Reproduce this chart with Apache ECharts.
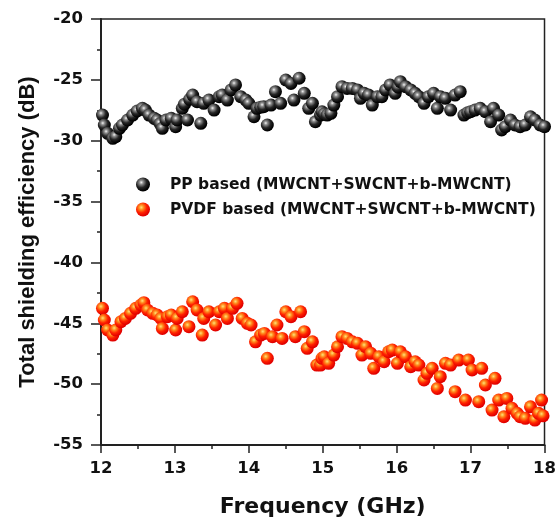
<!DOCTYPE html>
<html>
<head>
<meta charset="utf-8">
<script src="https://cdn.jsdelivr.net/npm/echarts@6/dist/echarts.min.js"></script>
<style>
html,body{margin:0;padding:0;background:#fff;}
#chart{width:559px;height:523px;}
</style>
</head>
<body>
<div id="chart"></div>
<script>
var seriesNames = ['PP based (MWCNT+SWCNT+b-MWCNT)', 'PVDF based (MWCNT+SWCNT+b-MWCNT)'];
var xTicks = [12, 13, 14, 15, 16, 17, 18];
var yTicks = [-55, -50, -45, -40, -35, -30, -25, -20];

var ppFreq = [12.02,12.045,12.09,12.16,12.2,12.25,12.29,12.36,12.43,12.49,12.56,12.6,12.65,12.72,12.76,12.8,12.83,12.88,12.95,13.01,13.03,13.1,13.13,13.17,13.2,13.24,13.3,13.35,13.39,13.46,13.53,13.6,13.64,13.71,13.76,13.82,13.89,13.96,14.0,14.07,14.11,14.16,14.2,14.25,14.3,14.36,14.43,14.5,14.57,14.61,14.68,14.75,14.81,14.86,14.9,14.97,14.99,15.02,15.06,15.11,15.15,15.2,15.26,15.33,15.4,15.47,15.51,15.56,15.62,15.67,15.74,15.8,15.85,15.91,15.98,16.02,16.05,16.12,16.19,16.25,16.3,16.37,16.43,16.5,16.55,16.59,16.66,16.73,16.79,16.86,16.91,16.96,17.0,17.06,17.13,17.2,17.27,17.31,17.38,17.42,17.47,17.54,17.6,17.67,17.74,17.81,17.87,17.94,18.0];
var ppSE = [-27.89,-28.71,-29.39,-29.8,-29.67,-28.98,-28.71,-28.3,-27.89,-27.56,-27.34,-27.48,-27.89,-28.16,-28.3,-28.6,-28.98,-28.3,-28.16,-28.85,-28.3,-27.34,-27.0,-28.3,-26.6,-26.25,-26.8,-28.57,-26.93,-26.66,-27.48,-26.38,-26.25,-26.66,-25.83,-25.42,-26.38,-26.66,-26.93,-28.03,-27.34,-27.25,-27.2,-28.71,-27.07,-25.97,-26.93,-25.01,-25.29,-26.66,-24.87,-26.11,-27.34,-26.93,-28.44,-27.89,-27.62,-27.8,-27.89,-27.75,-27.07,-26.38,-25.56,-25.7,-25.7,-25.83,-26.52,-26.11,-26.25,-27.07,-26.38,-26.38,-25.83,-25.42,-26.11,-25.6,-25.15,-25.56,-25.83,-26.11,-26.38,-26.93,-26.38,-26.11,-27.34,-26.38,-26.52,-27.48,-26.25,-25.97,-27.89,-27.7,-27.62,-27.48,-27.34,-27.62,-28.44,-27.34,-27.89,-29.12,-28.85,-28.3,-28.71,-28.85,-28.71,-28.03,-28.3,-28.71,-28.85];

var pvdfFreq = [12.02,12.045,12.09,12.16,12.2,12.27,12.33,12.4,12.47,12.54,12.58,12.63,12.7,12.76,12.81,12.83,12.9,12.95,13.01,13.03,13.1,13.19,13.24,13.3,13.37,13.39,13.46,13.55,13.6,13.67,13.71,13.78,13.84,13.91,13.98,14.03,14.09,14.16,14.21,14.25,14.32,14.38,14.45,14.5,14.57,14.63,14.7,14.75,14.79,14.86,14.92,14.97,14.99,15.02,15.08,15.15,15.2,15.26,15.33,15.4,15.47,15.53,15.58,15.65,15.69,15.76,15.83,15.89,15.94,16.01,16.05,16.12,16.19,16.25,16.3,16.37,16.41,16.48,16.55,16.59,16.66,16.73,16.79,16.84,16.93,16.97,17.02,17.11,17.15,17.2,17.29,17.33,17.38,17.45,17.49,17.56,17.63,17.67,17.74,17.81,17.87,17.92,17.96,17.98];
var pvdfSE = [-43.77,-44.73,-45.55,-45.97,-45.55,-44.87,-44.6,-44.18,-43.77,-43.5,-43.31,-43.91,-44.18,-44.32,-44.6,-45.42,-44.46,-44.32,-45.55,-44.6,-44.05,-45.28,-43.23,-43.91,-45.97,-44.6,-44.05,-45.14,-44.05,-43.77,-44.6,-43.77,-43.36,-44.6,-45.0,-45.14,-46.52,-45.97,-45.83,-47.88,-46.1,-45.14,-46.24,-44.05,-44.46,-46.1,-44.05,-45.69,-47.06,-46.52,-48.43,-48.43,-47.88,-47.75,-48.29,-47.61,-46.93,-46.1,-46.24,-46.52,-46.65,-47.61,-46.93,-47.47,-48.7,-47.75,-48.16,-47.34,-47.2,-48.29,-47.34,-47.75,-48.57,-48.16,-48.43,-49.66,-49.11,-48.7,-50.35,-49.39,-48.29,-48.43,-50.62,-48.02,-51.31,-48.02,-48.84,-51.44,-48.7,-50.07,-52.13,-49.52,-51.31,-52.68,-51.17,-51.99,-52.4,-52.68,-52.81,-51.86,-52.95,-52.4,-51.31,-52.6];

function zip(a, b) { return a.map(function (v, i) { return [v, b[i]]; }); }

var blackBall = {
  type: 'radial', x: 0.38, y: 0.35, r: 0.62,
  colorStops: [
    {offset: 0, color: '#f4f4f4'},
    {offset: 0.22, color: '#8f8f8f'},
    {offset: 0.6, color: '#262626'},
    {offset: 1, color: '#000000'}
  ]
};
var redBall = {
  type: 'radial', x: 0.38, y: 0.35, r: 0.62,
  colorStops: [
    {offset: 0, color: '#ffe27a'},
    {offset: 0.28, color: '#ff8a1c'},
    {offset: 0.62, color: '#ff2200'},
    {offset: 1, color: '#e00000'}
  ]
};

var WIDE = '"DejaVu Sans", Verdana, sans-serif';
var ARIAL = 'Arial, "Liberation Sans", Helvetica, sans-serif';
var chart = echarts.init(document.getElementById('chart'), null, {renderer: 'canvas'});
chart.setOption({
  animation: false,
  backgroundColor: '#fff',
  grid: {left: 101, right: 13, top: 19, bottom: 78, show: true, borderColor: '#222', borderWidth: 1.5, backgroundColor: 'transparent'},
  legend: {
    orient: 'vertical', left: 131, top: 171,
    itemWidth: 14, itemHeight: 14, itemGap: 8,
    icon: 'circle',
    textStyle: {fontFamily: WIDE, fontWeight: 'bold', fontSize: 15.5, color: '#111', padding: [0, 0, 0, 15], lineHeight: 17},
    data: seriesNames
  },
  xAxis: {
    type: 'value', min: xTicks[0], max: xTicks[xTicks.length - 1], interval: 1,
    name: 'Frequency (GHz)', nameLocation: 'middle', nameGap: 51,
    nameTextStyle: {fontFamily: WIDE, fontWeight: 'bold', fontSize: 22, color: '#111'},
    axisLine: {onZero: false, lineStyle: {color: '#222', width: 2}},
    axisTick: {inside: false, length: 8, lineStyle: {color: '#222', width: 1.5}},
    minorTick: {show: true, splitNumber: 2, length: 4, lineStyle: {color: '#222', width: 1.5}},
    axisLabel: {margin: 15, fontFamily: WIDE, fontWeight: 'bold', fontSize: 16.5, color: '#111'},
    splitLine: {show: false}
  },
  yAxis: {
    type: 'value', min: yTicks[0], max: yTicks[yTicks.length - 1], interval: 5,
    name: 'Total shielding efficiency (dB)', nameLocation: 'middle', nameGap: 62,
    nameTextStyle: {fontFamily: ARIAL, fontWeight: 'bold', fontSize: 22, color: '#111'},
    axisLine: {onZero: false, lineStyle: {color: '#222', width: 2}},
    axisTick: {inside: false, length: 10, lineStyle: {color: '#222', width: 1.5}},
    minorTick: {show: true, splitNumber: 2, length: 4, lineStyle: {color: '#222', width: 1.5}},
    axisLabel: {margin: 18, fontFamily: WIDE, fontWeight: 'bold', fontSize: 16.5, color: '#111'},
    splitLine: {show: false}
  },
  series: [
    {name: seriesNames[0], type: 'scatter', symbol: 'circle', symbolSize: 13,
     itemStyle: {color: blackBall, opacity: 1}, data: zip(ppFreq, ppSE)},
    {name: seriesNames[1], type: 'scatter', symbol: 'circle', symbolSize: 13,
     itemStyle: {color: redBall, opacity: 1}, data: zip(pvdfFreq, pvdfSE)}
  ]
});
</script>
</body>
</html>
